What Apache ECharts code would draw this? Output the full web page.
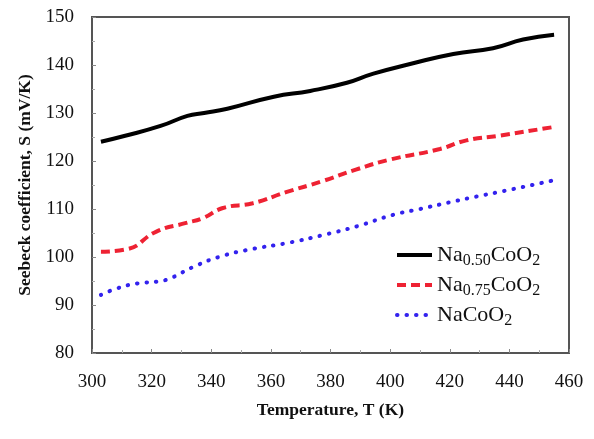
<!DOCTYPE html>
<html><head><meta charset="utf-8">
<script src="https://cdn.jsdelivr.net/npm/echarts@6/dist/echarts.min.js"></script>
<style>html,body{margin:0;padding:0;background:#fff}#c{width:594px;height:439px}</style>
</head><body><div id="c"></div>
<script>
var seriesNames = ['Na0.50CoO2', 'Na0.75CoO2', 'NaCoO2'];
var na050 = [[303,124.0],[310.8,125.2],[323,127.3],[332,129.4],[337.6,130.0],[345.4,130.9],[361,133.4],[373.2,134.6],[385.5,136.3],[394.4,138.2],[406.7,140.2],[421.2,142.3],[434.5,143.5],[444.6,145.3],[455,146.3]];
var na075 = [[303,101.1],[311.6,101.6],[321.6,105.3],[331.6,107.1],[337.2,108.1],[343.9,110.2],[353.9,111.2],[365.1,113.5],[377.3,115.8],[388.5,118.2],[400,120.3],[416.7,122.5],[425.6,124.3],[436.8,125.3],[455,127.1]];
var nacoo2 = [[303,92.1],[308.6,93.5],[315.3,94.5],[322,94.9],[326.4,95.6],[334.2,98.0],[343.1,100.1],[353.2,101.6],[365.4,102.9],[377.7,104.6],[388.9,106.4],[401.1,108.8],[410,110.0],[420,111.4],[429,112.6],[440.1,114.0],[455,116.0]];
var xTicks = {min:300, max:460, interval:20};
var yTicks = {min:80, max:150, interval:10};

var font = 'Liberation Serif';
var chart = echarts.init(document.getElementById('c'), null, {renderer:'canvas'});
var legendText = {
  'Na0.50CoO2': '{a|Na}{s|0.50}{a|CoO}{s|2}',
  'Na0.75CoO2': '{a|Na}{s|0.75}{a|CoO}{s|2}',
  'NaCoO2': '{a|NaCoO}{s|2}'
};
function axisCommon() {
  return {
    axisLine:{show:true, lineStyle:{color:'#555', width:2}},
    axisTick:{show:true, inside:true, length:4, lineStyle:{color:'#888', width:1}},
    minorTick:{show:true, splitNumber:2, length:3, lineStyle:{color:'#aaa'}},
    splitLine:{show:false},
    axisLabel:{fontFamily:font, fontSize:19, color:'#111'},
    nameTextStyle:{fontFamily:font, fontSize:17.5, fontWeight:'bold', color:'#111'}
  };
}
var xa = Object.assign(axisCommon(), {
  type:'value', min:xTicks.min, max:xTicks.max, interval:xTicks.interval,
  name:'Temperature, T (K)', nameLocation:'middle', nameGap:48
});
xa.axisLabel.margin = 20;
var ya = Object.assign(axisCommon(), {
  type:'value', min:yTicks.min, max:yTicks.max, interval:yTicks.interval,
  name:'Seebeck coefficient, S (mV/K)', nameLocation:'middle', nameGap:56
});
ya.axisLabel.margin = 18;
var transparent = 'rgba(0,0,0,0)';
var legendWidths = [4, 4, 4];
chart.setOption({
  animation:false,
  backgroundColor:'#fff',
  grid:{left:92, right:25, top:17, bottom:86, show:true, borderColor:'#555', borderWidth:2},
  xAxis: xa,
  yAxis: ya,
  legend:{
    orient:'vertical', left:390, top:236, itemWidth:35, itemHeight:12, itemGap:2,
    data: seriesNames.map(function(n, i){return {name:n, itemStyle:{color:transparent, borderWidth:0, opacity:0}, lineStyle:{width:legendWidths[i]}};}),
    formatter:function(n){return legendText[n];},
    textStyle:{fontFamily:font, color:'#111', rich:{
      a:{fontFamily:font, fontSize:22, color:'#111', lineHeight:26},
      s:{fontFamily:font, fontSize:16, color:'#111', padding:[12,0,0,0], lineHeight:26}
    }}
  },
  series:[
    {name:seriesNames[0], type:'line', data:na050, smooth:true, showSymbol:false, symbol:'none',
     lineStyle:{color:'#000', width:4}, itemStyle:{color:transparent}},
    {name:seriesNames[1], type:'line', data:na075, smooth:true, showSymbol:false, symbol:'none',
     lineStyle:{color:'#ee2233', width:4, type:[9,5]}, itemStyle:{color:transparent}},
    {name:seriesNames[2], type:'line', data:nacoo2, smooth:true, showSymbol:false, symbol:'none',
     lineStyle:{color:'#3322ee', width:4, type:[0.5,9], cap:'round'}, itemStyle:{color:transparent}}
  ]
});
</script></body></html>
